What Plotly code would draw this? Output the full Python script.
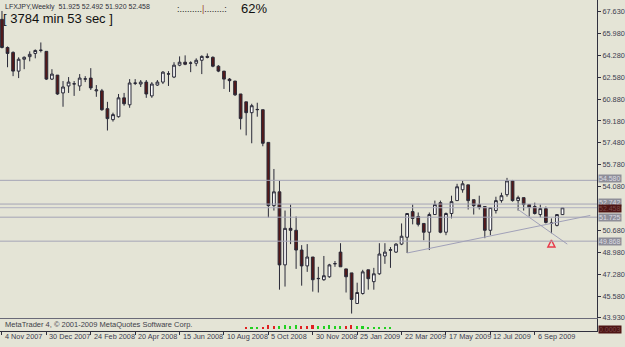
import plotly.graph_objects as go
import pandas as pd

# ---------------- data ----------------
symbol_title = "LFXJPY,Weekly  51.925 52.492 51.920 52.458"
timer_text = "[ 3784 min 53 sec ]"
progress_text = "62%"
footer_text = "MetaTrader 4, © 2001-2009 MetaQuotes Software Corp."

dates = pd.date_range("2007-11-04", periods=102, freq="7D")

opens = [67.05, 64.87, 64.49, 63.04, 63.96, 64.16, 64.41, 64.64, 64.57, 62.42,
         62.73, 61.35, 61.89, 62.04, 61.89, 62.42, 62.50, 61.51, 61.51, 60.13,
         59.28, 59.51, 60.97, 60.43, 62.12, 62.04, 62.19, 61.12, 61.96, 62.19,
         62.81, 62.58, 63.50, 63.73, 63.65, 63.65, 63.88, 64.18, 64.11, 63.42,
         63.04, 62.42, 62.27, 61.27, 60.66, 59.82, 60.05, 60.05, 57.52, 52.62,
         53.69, 48.03, 50.86, 50.71, 49.18, 47.95, 48.64, 46.96, 46.88, 47.11,
         48.11, 49.02, 47.72, 47.41, 45.04, 45.81, 47.65, 46.73, 47.34, 48.72,
         49.16, 49.02, 49.64, 50.17, 52.16, 51.78, 51.24, 50.56, 51.93, 52.85,
         50.56, 52.01, 53.01, 53.85, 54.23, 53.08, 52.70, 52.55, 50.71, 52.24,
         53.01, 53.47, 54.54, 53.01, 53.24, 52.70, 52.55, 51.93, 52.39, 51.28,
         51.09, 51.925]
highs = [67.70, 64.95, 64.57, 64.11, 64.18, 64.57, 64.72, 65.26, 64.57, 63.19,
         62.73, 62.27, 62.58, 62.27, 62.81, 62.65, 63.27, 61.96, 61.66, 60.66,
         59.82, 61.27, 61.35, 62.42, 62.42, 62.35, 62.35, 62.19, 62.35, 63.04,
         63.04, 63.73, 64.18, 64.26, 63.80, 64.03, 64.26, 64.41, 64.18, 63.50,
         63.04, 62.50, 62.27, 61.27, 60.66, 60.51, 60.59, 60.05, 57.52, 55.46,
         54.54, 52.24, 52.70, 51.78, 49.56, 49.64, 48.64, 47.88, 48.72, 48.11,
         48.33, 49.71, 47.72, 47.41, 46.65, 47.65, 47.65, 47.80, 49.71, 49.71,
         49.41, 49.71, 51.24, 52.01, 52.70, 52.09, 51.24, 52.09, 53.01, 53.01,
         52.09, 53.39, 54.31, 54.54, 54.23, 53.08, 53.39, 52.55, 52.47, 53.31,
         53.62, 54.77, 54.61, 53.39, 53.24, 52.70, 52.85, 52.70, 52.55, 51.63,
         51.93, 52.492]
lows = [64.80, 63.34, 62.65, 62.50, 63.19, 63.80, 64.03, 64.49, 62.35, 62.35,
        61.20, 60.28, 61.35, 61.12, 61.51, 62.19, 61.58, 61.05, 59.97, 58.44,
        59.13, 59.44, 60.36, 60.20, 61.96, 61.81, 60.97, 60.97, 61.89, 62.04,
        61.89, 62.50, 63.42, 63.50, 62.96, 63.42, 62.81, 64.03, 63.34, 62.96,
        61.66, 61.43, 61.12, 58.52, 58.06, 57.45, 59.51, 57.22, 51.70, 52.24,
        46.11, 46.35, 49.64, 47.72, 46.42, 47.49, 45.96, 45.89, 46.80, 47.03,
        47.88, 47.88, 45.89, 44.26, 45.04, 45.73, 46.11, 46.11, 47.26, 48.11,
        47.80, 48.95, 49.56, 48.95, 51.17, 51.01, 49.94, 49.18, 51.93, 50.48,
        50.33, 51.63, 53.01, 53.62, 52.32, 51.93, 52.32, 50.10, 50.33, 52.01,
        52.85, 53.31, 52.93, 52.24, 52.24, 51.78, 51.93, 51.70, 51.24, 50.48,
        51.01, 51.920]
closes = [64.87, 64.41, 63.04, 63.96, 64.11, 64.34, 64.64, 64.66, 62.42, 62.81,
          61.27, 61.81, 62.19, 62.06, 62.50, 62.44, 61.74, 61.58, 60.05, 59.36,
          59.67, 60.97, 60.51, 62.12, 62.10, 62.19, 61.27, 62.04, 62.19, 62.96,
          62.83, 63.50, 63.73, 63.57, 63.67, 63.88, 64.18, 64.11, 63.42, 63.04,
          62.42, 62.30, 61.20, 59.36, 59.82, 60.36, 60.07, 57.45, 52.62, 53.69,
          48.03, 50.86, 50.71, 49.18, 47.95, 48.64, 46.88, 46.98, 47.19, 48.03,
          48.13, 47.88, 47.11, 45.35, 45.89, 47.49, 46.96, 47.34, 48.87, 49.02,
          49.20, 49.64, 50.25, 52.01, 51.63, 51.17, 50.56, 51.93, 52.70, 50.56,
          52.01, 52.93, 54.08, 54.31, 53.01, 52.62, 52.47, 50.71, 52.47, 53.01,
          53.39, 54.54, 53.01, 53.24, 52.70, 52.47, 52.01, 52.39, 51.32, 51.24,
          51.93, 52.458]

price_ticks = [67.63, 65.98, 64.28, 62.58, 60.88, 59.18, 57.48, 55.78, 54.08,
               50.68, 48.98, 47.28, 45.58, 43.93]

level_prices = [54.580, 52.742, 51.725, 49.868]
level_shift = [2, 2, 0, 0]
bid_price = 52.458

date_ticks = ["2007-11-04", "2007-12-30", "2008-02-24", "2008-04-20", "2008-06-15",
              "2008-08-10", "2008-10-05", "2008-11-30", "2009-01-25", "2009-03-22",
              "2009-05-17", "2009-07-12", "2009-09-06"]
date_labels = ["4 Nov 2007", "30 Dec 2007", "24 Feb 2008", "20 Apr 2008", "15 Jun 2008",
               "10 Aug 2008", "5 Oct 2008", "30 Nov 2008", "25 Jan 2009", "22 Mar 2009",
               "17 May 2009", "12 Jul 2009", "6 Sep 2009"]

trend1_x = ["2009-03-29", "2009-11-15"]
trend1_y = [48.95, 51.86]
trend2_x = ["2009-08-16", "2009-10-17"]
trend2_y = [52.32, 49.64]

signal_x = ["2009-09-27"]
signal_y = [49.96]

osc_dates = ["2008-09-07", "2008-09-14", "2008-09-21", "2008-09-28", "2008-10-05",
             "2008-10-12", "2008-10-19", "2008-10-26", "2008-11-02", "2008-11-09",
             "2008-11-16", "2008-11-23", "2008-11-30", "2008-12-07", "2008-12-14",
             "2008-12-21", "2008-12-28", "2009-01-04", "2009-01-11", "2009-01-18",
             "2009-01-25", "2009-02-01", "2009-02-08", "2009-02-15", "2009-02-22",
             "2009-03-01", "2009-03-08"]
osc_values = [2, 1, 1, 2, 4, 3, 3, 4, 3, 4, 3, 3, 4, 3, 3, 4, 3, 3, 3, 4, 3, 3, 2, 2, 2, 1, 1]
osc_colors = ["r", "g", "g", "r", "r", "r", "g", "g", "g", "g", "r", "r", "r", "g",
              "g", "g", "g", "g", "r", "r", "g", "g", "g", "g", "g", "g", "g"]

# ---------------- figure ----------------
W, H = 625, 347
bg = "#e4e4d6"
axis_col = "#30303e"
lbl_col = "#3c3c50"
x_dom = [0, 597 / W]
main_dom = [25 / H, 1]
sub_dom = [12 / H, 24 / H]

x_start = pd.Timestamp("2007-11-04") - pd.Timedelta(days=2.5)
x_end = pd.Timestamp("2009-11-23 12:00")

fig = go.Figure()
fig.add_trace(go.Candlestick(
    x=dates, open=opens, high=highs, low=lows, close=closes,
    increasing=dict(line=dict(color="#2a2a38", width=1), fillcolor="#ffffff"),
    decreasing=dict(line=dict(color="#2a2a38", width=1), fillcolor="#561818"),
    whiskerwidth=0, showlegend=False, xaxis="x", yaxis="y"))

fig.add_trace(go.Scatter(
    x=signal_x, y=signal_y, mode="markers", showlegend=False,
    marker=dict(symbol="arrow-up-open", size=7, color="#e83a4a", line=dict(width=1.5, color="#e83a4a")),
    xaxis="x", yaxis="y"))

fig.add_trace(go.Bar(
    x=pd.to_datetime(osc_dates), y=osc_values, base=2,
    marker=dict(color=["#e02020" if c == "r" else "#20d020" for c in osc_colors], line=dict(width=0)),
    width=2.0 * 24 * 3600 * 1000, showlegend=False, xaxis="x2", yaxis="y2"))

shapes = []
for p in level_prices:
    shapes.append(dict(type="line", xref="paper", yref="y", x0=0, x1=x_dom[1], y0=p, y1=p,
                       line=dict(color="#a4a4b6", width=1)))
shapes.append(dict(type="line", xref="paper", yref="y", x0=0, x1=x_dom[1], y0=bid_price, y1=bid_price,
                   line=dict(color="#b0b0c0", width=1)))
shapes.append(dict(type="line", xref="x", yref="y", x0=trend1_x[0], x1=trend1_x[1],
                   y0=trend1_y[0], y1=trend1_y[1], line=dict(color="#a0a0b8", width=1)))
shapes.append(dict(type="line", xref="x", yref="y", x0=trend2_x[0], x1=trend2_x[1],
                   y0=trend2_y[0], y1=trend2_y[1], line=dict(color="#a0a0b8", width=1)))

annotations = []
for p, s in zip(level_prices, level_shift):
    annotations.append(dict(xref="paper", yref="y", x=598 / W, y=p, xanchor="left", yanchor="middle",
                            yshift=s, text=f"{p:.3f}", showarrow=False, bgcolor="#8e8e98",
                            font=dict(family="Liberation Sans", size=7, color="#dcdce4"), borderpad=0))
annotations.append(dict(xref="paper", yref="y", x=598 / W, y=bid_price, xanchor="left", yanchor="middle",
                        yshift=-1, text=f"{bid_price:.3f}", showarrow=False, bgcolor="#4e1414",
                        font=dict(family="Liberation Sans", size=7, color="#7a4a4a"), borderpad=0))
for d, t in zip(date_ticks, date_labels):
    annotations.append(dict(xref="x", yref="paper", x=d, y=1 - 340 / H, xanchor="left", yanchor="middle",
                            xshift=1, text=t, showarrow=False,
                            font=dict(family="Liberation Sans", size=7.3, color=lbl_col)))
annotations += [
    dict(xref="paper", yref="paper", x=3 / W, y=1 - 7 / H, xanchor="left", yanchor="middle",
         text=symbol_title, showarrow=False, font=dict(family="Liberation Sans", size=7, color="#30303a")),
    dict(xref="paper", yref="paper", x=1 / W, y=1 - 19 / H, xanchor="left", yanchor="middle",
         text=timer_text, showarrow=False, font=dict(family="Liberation Sans", size=13, color="#101010")),
    dict(xref="paper", yref="paper", x=175 / W, y=1 - 9 / H, xanchor="left", yanchor="middle",
         text=":.........<span style='color:#9a4a2a'>|</span>........:", showarrow=False,
         font=dict(family="Liberation Sans", size=9, color="#202020")),
    dict(xref="paper", yref="paper", x=239 / W, y=1 - 9 / H, xanchor="left", yanchor="middle",
         text=progress_text, showarrow=False, font=dict(family="Liberation Sans", size=13, color="#101010")),
    dict(xref="paper", yref="paper", x=3 / W, y=1 - 328 / H, xanchor="left", yanchor="middle",
         text=footer_text, showarrow=False, font=dict(family="Liberation Sans", size=7.5, color="#404048")),
    dict(xref="paper", yref="paper", x=598 / W, y=1 - 333 / H, xanchor="left", yanchor="middle",
         text="0.0003", showarrow=False, bgcolor="#4e1414",
         font=dict(family="Liberation Sans", size=7, color="#7a4a4a"), borderpad=0),
]

fig.update_layout(
    width=W, height=H, autosize=False,
    margin=dict(l=0, r=0, t=0, b=0),
    paper_bgcolor=bg, plot_bgcolor=bg,
    font=dict(family="Liberation Sans", size=8, color=lbl_col),
    shapes=shapes, annotations=annotations, bargap=0,
    xaxis=dict(domain=x_dom, anchor="y", range=[x_start, x_end], showticklabels=False,
               showgrid=False, zeroline=False, showline=True, linecolor="#6a6a78", linewidth=1,
               rangeslider=dict(visible=False), ticks=""),
    yaxis=dict(domain=main_dom, anchor="x", side="right", range=[43.893, 68.549],
               tickvals=price_ticks, tickformat=".3f", ticks="outside", ticklen=3,
               tickcolor=axis_col, showgrid=False, zeroline=False, showline=True,
               linecolor=axis_col, linewidth=1,
               tickfont=dict(family="Liberation Sans", size=7.3, color=lbl_col)),
    xaxis2=dict(domain=x_dom, anchor="y2", matches="x", range=[x_start, x_end],
                tickvals=pd.to_datetime(date_ticks), ticks="outside", ticklen=3, tickcolor=axis_col,
                showticklabels=False, showgrid=False, zeroline=False, showline=True,
                linecolor=axis_col, linewidth=1),
    yaxis2=dict(domain=sub_dom, anchor="x2", side="right", range=[0, 12], showticklabels=False,
                ticks="", showgrid=False, zeroline=False, showline=True, linecolor=axis_col, linewidth=1),
)

fig.write_html("out.html")
